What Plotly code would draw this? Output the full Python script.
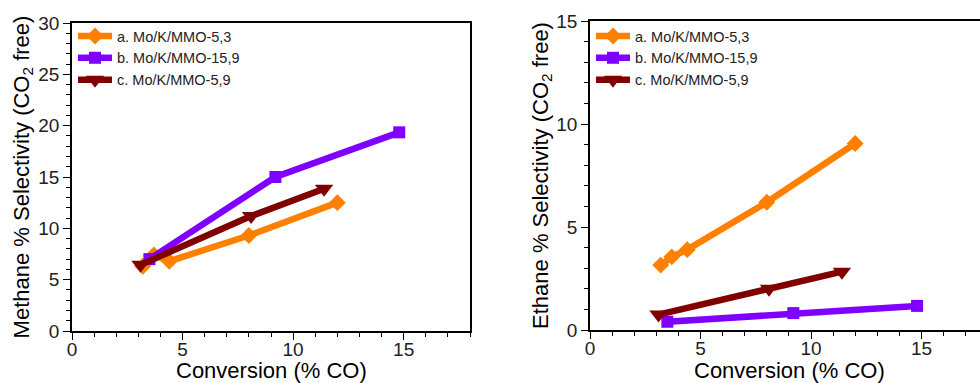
import plotly.graph_objects as go

# ---- data ----
names = ["a. Mo/K/MMO-5,3", "b. Mo/K/MMO-15,9", "c. Mo/K/MMO-5,9"]

a_conv = [3.2, 3.7, 4.4, 8.0, 12.0]
a_methane = [6.3, 7.4, 6.8, 9.3, 12.5]
a_ethane = [3.15, 3.55, 3.9, 6.2, 9.05]

b_conv = [3.5, 9.2, 14.8]
b_methane = [7.0, 15.0, 19.35]
b_ethane = [0.4, 0.82, 1.17]

c_conv = [3.1, 8.1, 11.4]
c_methane = [6.45, 11.2, 13.85]
c_ethane = [0.75, 2.0, 2.83]

x_title = "Conversion (% CO)"
y1_title = "Methane % Selectivity (CO<sub>2</sub> free)"
y2_title = "Ethane % Selectivity (CO<sub>2</sub> free)"

colors = ["#FF8000", "#8000FF", "#800000"]
symbols = ["diamond", "square", "triangle-down"]
msizes = [13, 12, 16]

series = [
    (a_conv, a_methane, a_ethane),
    (b_conv, b_methane, b_ethane),
    (c_conv, c_methane, c_ethane),
]

fig = go.Figure()
for i, (xv, ym, ye) in enumerate(series):
    fig.add_trace(go.Scatter(
        x=xv, y=ym, mode="lines+markers", name=names[i],
        line=dict(color=colors[i], width=6.5),
        marker=dict(symbol=symbols[i], size=msizes[i], color=colors[i]),
        xaxis="x", yaxis="y", legend="legend"))
for i, (xv, ym, ye) in enumerate(series):
    fig.add_trace(go.Scatter(
        x=xv, y=ye, mode="lines+markers", name=names[i],
        line=dict(color=colors[i], width=6.5),
        marker=dict(symbol=symbols[i], size=msizes[i], color=colors[i]),
        xaxis="x2", yaxis="y2", legend="legend2"))

FONT = "Liberation Sans, Arial, sans-serif"
W, H = 980, 383
ml, mr, mt, mb = 72, 0, 21, 52
pw = W - ml - mr
ph = H - mt - mb

def px_x(p):
    return (p - ml) / pw

def px_y(p):
    return 1 - (p - mt) / ph

axis_common = dict(
    showline=True, linecolor="black", linewidth=1.5,
    ticks="outside", ticklen=7, tickwidth=1.3, tickcolor="black",
    tickfont=dict(size=19, color="#222", family=FONT),
    showgrid=False, zeroline=False, automargin=False,
    minor=dict(ticks="outside", ticklen=4, tickwidth=1, tickcolor="black", dtick=1),
)

legend_common = dict(
    xanchor="left", yanchor="top", bgcolor="rgba(0,0,0,0)",
    font=dict(size=14.5, color="#222", family=FONT),
    itemwidth=34, tracegroupgap=0,
)

fig.update_layout(
    width=W, height=H,
    margin=dict(l=ml, r=mr, t=mt, b=mb),
    paper_bgcolor="white", plot_bgcolor="white",
    font=dict(family=FONT, color="black"),
    xaxis=dict(axis_common, domain=[0, px_x(470)], range=[0, 18], dtick=5,
               mirror=True, anchor="y", ticklabelstandoff=-7),
    yaxis=dict(axis_common, domain=[0, px_y(23)], range=[0, 30], dtick=5,
               mirror=True, anchor="x",
               title=dict(text=y1_title, font=dict(size=22), standoff=3)),
    xaxis2=dict(axis_common, domain=[px_x(590), 1], range=[0, (980 - 590) / 22.1], dtick=5,
                mirror=True, anchor="y2", ticklabelstandoff=-7),
    yaxis2=dict(axis_common, domain=[px_y(330), 1], range=[0, 15], dtick=5,
                mirror=False, anchor="x2",
                title=dict(text=y2_title, font=dict(size=22), standoff=2)),
    legend=dict(legend_common, x=px_x(73), y=px_y(20)),
    legend2=dict(legend_common, x=px_x(591), y=px_y(20)),
    annotations=[
        dict(text=x_title, xref="paper", yref="paper",
             x=px_x(271), y=px_y(370), xanchor="center", yanchor="middle",
             showarrow=False, font=dict(size=22, color="black", family=FONT)),
        dict(text=x_title, xref="paper", yref="paper",
             x=px_x(789), y=px_y(370), xanchor="center", yanchor="middle",
             showarrow=False, font=dict(size=22, color="black", family=FONT)),
    ],
)

fig.write_html("out.html",
               config={"displayModeBar": False},
               post_script="document.body.style.margin='0';document.body.style.overflow='hidden';")
